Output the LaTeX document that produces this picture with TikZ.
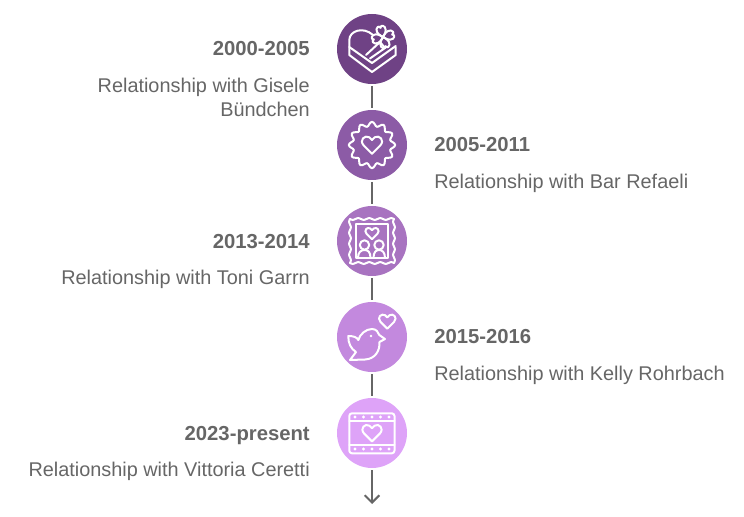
\documentclass[tikz,border=0pt]{standalone}
\usepackage{fontspec}
\setmainfont{Liberation Sans}
\usetikzlibrary{arrows.meta,
                positioning}
\definecolor{stageone}{HTML}{6F4285}
\definecolor{stagetwo}{HTML}{8C5BA6}
\definecolor{stagethree}{HTML}{A873C0}
\definecolor{stagefour}{HTML}{C389DE}
\definecolor{stagefive}{HTML}{DEA3F8}
\definecolor{labelgray}{HTML}{666666}
\tikzset{stage/.style =
   {circle,
    minimum size=52.5pt,
    inner sep=0pt,
    outer sep=1.5pt}}
\tikzset{year/.style =
   {font=\fontsize{15.2}{15}\selectfont\bfseries,
    text=labelgray,
    text height=10.5pt,
    text depth=0pt,
    inner sep=0pt}}
\tikzset{about/.style =
   {font=\fontsize{14.9}{18}\selectfont,
    text=labelgray,
    inner sep=0pt}}
\tikzset{link/.style = {draw=labelgray, line width=1.5pt}}
\tikzset{icon/.style =
   {draw=white,
    line width=1.5pt,
    line join=round,
    line cap=round}}
\tikzset{heart/.pic = {
    \draw [icon] (0,8) -- (-7.5,0.5)
        .. controls (-12,-4.5) and (-6.5,-9.5) .. (-2.5,-7)
        .. controls (-1.5,-6.5) and (-0.5,-5.5) .. (0,-4.5)
        .. controls (0.5,-5.5) and (1.5,-6.5) .. (2.5,-7)
        .. controls (6.5,-9.5) and (12,-4.5) .. (7.5,0.5) -- cycle;}}
\tikzset{petal/.pic = {
    \draw [icon] (0,0) .. controls (5,-3) and (6,-10) .. (2.5,-11)
        .. controls (1.5,-11.5) and (0.5,-11) .. (0,-9.5)
        .. controls (-0.5,-11) and (-1.5,-11.5) .. (-2.5,-11)
        .. controls (-6,-10) and (-5,-3) .. (0,0);}}
\begin{document}
\begin{tikzpicture}[x=0.75pt,y=-0.75pt]
    \useasboundingbox (0,0) rectangle (744,517);

    \node [stage, fill=stageone]   (stage1) at (372,49)  {};
    \node [stage, fill=stagetwo]   (stage2) at (372,145) {};
    \node [stage, fill=stagethree] (stage3) at (372,241) {};
    \node [stage, fill=stagefour]  (stage4) at (372,337) {};
    \node [stage, fill=stagefive]  (stage5) at (372,433) {};
    \coordinate (tip) at (372,504);

    \draw [link] (stage1) -- (stage2);
    \draw [link] (stage2) -- (stage3);
    \draw [link] (stage3) -- (stage4);
    \draw [link] (stage4) -- (stage5);
    \draw [link, -{Straight Barb[length=5.5pt,width=11pt]}] (stage5) -- (tip);

    \node [year, left = 18.75pt of stage1] (year1) {2000-2005};
    \node [about, align=right,
           below = 16pt of year1.south east,
           anchor=north east] (about1) {Relationship with Gisele\\Bündchen};
    \node [year, right = 18.75pt of stage2] (year2) {2005-2011};
    \node [about,
           below = 16pt of year2.south west,
           anchor=north west] (about2) {Relationship with Bar Refaeli};
    \node [year, left = 18.75pt of stage3] (year3) {2013-2014};
    \node [about,
           below = 16pt of year3.south east,
           anchor=north east] (about3) {Relationship with Toni Garrn};
    \node [year, right = 18.75pt of stage4] (year4) {2015-2016};
    \node [about,
           below = 16pt of year4.south west,
           anchor=north west] (about4) {Relationship with Kelly Rohrbach};
    \node [year, left = 18.75pt of stage5] (year5) {2023-present};
    \node [about,
           below = 16pt of year5.south east,
           anchor=north east] (about5) {Relationship with Vittoria Ceretti};

    % gift box
    \begin{scope}[shift={(372,49)}]
        \draw [icon] (23.7,-2) -- (23.7,6) -- (0,23) -- (-22.7,6) -- (-22.7,-9)
            .. controls (-22.7,-18) and (-9,-23) .. (1,-14);
        \draw [icon] (-22.7,-2) -- (0,14) -- (23.7,-3);
        \draw [icon] (-6,6) -- (8,-7) -- (13,-1) -- (-2,9.5);
        \foreach \turn in {15,105,195,285} {
            \pic at (11,-12) [rotate=\turn] {petal};
        }
    \end{scope}

    % badge
    \begin{scope}[shift={(372,145)}]
        \draw [icon] plot [domain=0:360, samples=97, smooth cycle]
            (\x:{21+2.2*cos(12*\x)});
        \pic at (0,0) [scale=1.1] {heart};
    \end{scope}

    % framed picture
    \begin{scope}[shift={(372,241)}]
        \foreach \turn in {0,90,180,270} {
            \begin{scope}[rotate=\turn]
                \draw [icon] plot [domain=-22:22, samples=33, smooth]
                    (\x,{-22+0.9*sin(32.73*\x)});
            \end{scope}
        }
        \draw [icon] (-16,-17) rectangle (16,17);
        \pic at (0,-7.5) [scale=0.72] {heart};
        \draw [icon] (-7.5,4) circle (4.7);
        \draw [icon] (7,4) circle (4.7);
        \draw [icon] (-14,17) .. controls (-14,11) and (-11,9) .. (-7.5,9)
            .. controls (-4,9) and (-1.5,11) .. (-1.5,17);
        \draw [icon] (1.5,17) .. controls (1.5,11) and (4,9) .. (7,9)
            .. controls (10,9) and (13,11) .. (13,17);
    \end{scope}

    % bird
    \begin{scope}[shift={(372,337)}]
        \pic at (15.3,-15.5) [scale=0.9] {heart};
        \draw [icon] (-23.7,-1) .. controls (-19,-1) and (-15,0) .. (-13.7,3)
            .. controls (-12,-3) and (-6,-8) .. (0,-8)
            .. controls (4,-8) and (6.5,-5) .. (7.3,-2)
            -- (13,2) -- (7.5,5)
            .. controls (8,14) and (3,22) .. (-7,22.5)
            -- (-22,23)
            -- (-16,15)
            .. controls (-21,12) and (-24,6) .. (-23.7,-1) -- cycle;
        \fill [white] (-1,-1) circle (1.3);
    \end{scope}

    % film strip
    \begin{scope}[shift={(372,433)}]
        \draw [icon, rounded corners=2pt] (-22.7,-19.7) rectangle (22.5,20.3);
        \draw [icon] (-22.7,-12) -- (22.5,-12);
        \draw [icon] (-22.7,12) -- (22.5,12);
        \foreach \dotx in {-17,-8.5,0,8.5,17} {
            \fill [white] (\dotx,-16) circle (1.6);
            \fill [white] (\dotx,16) circle (1.6);
        }
        \pic at (0,0) [scale=1.05] {heart};
    \end{scope}

\end{tikzpicture}
\end{document}
